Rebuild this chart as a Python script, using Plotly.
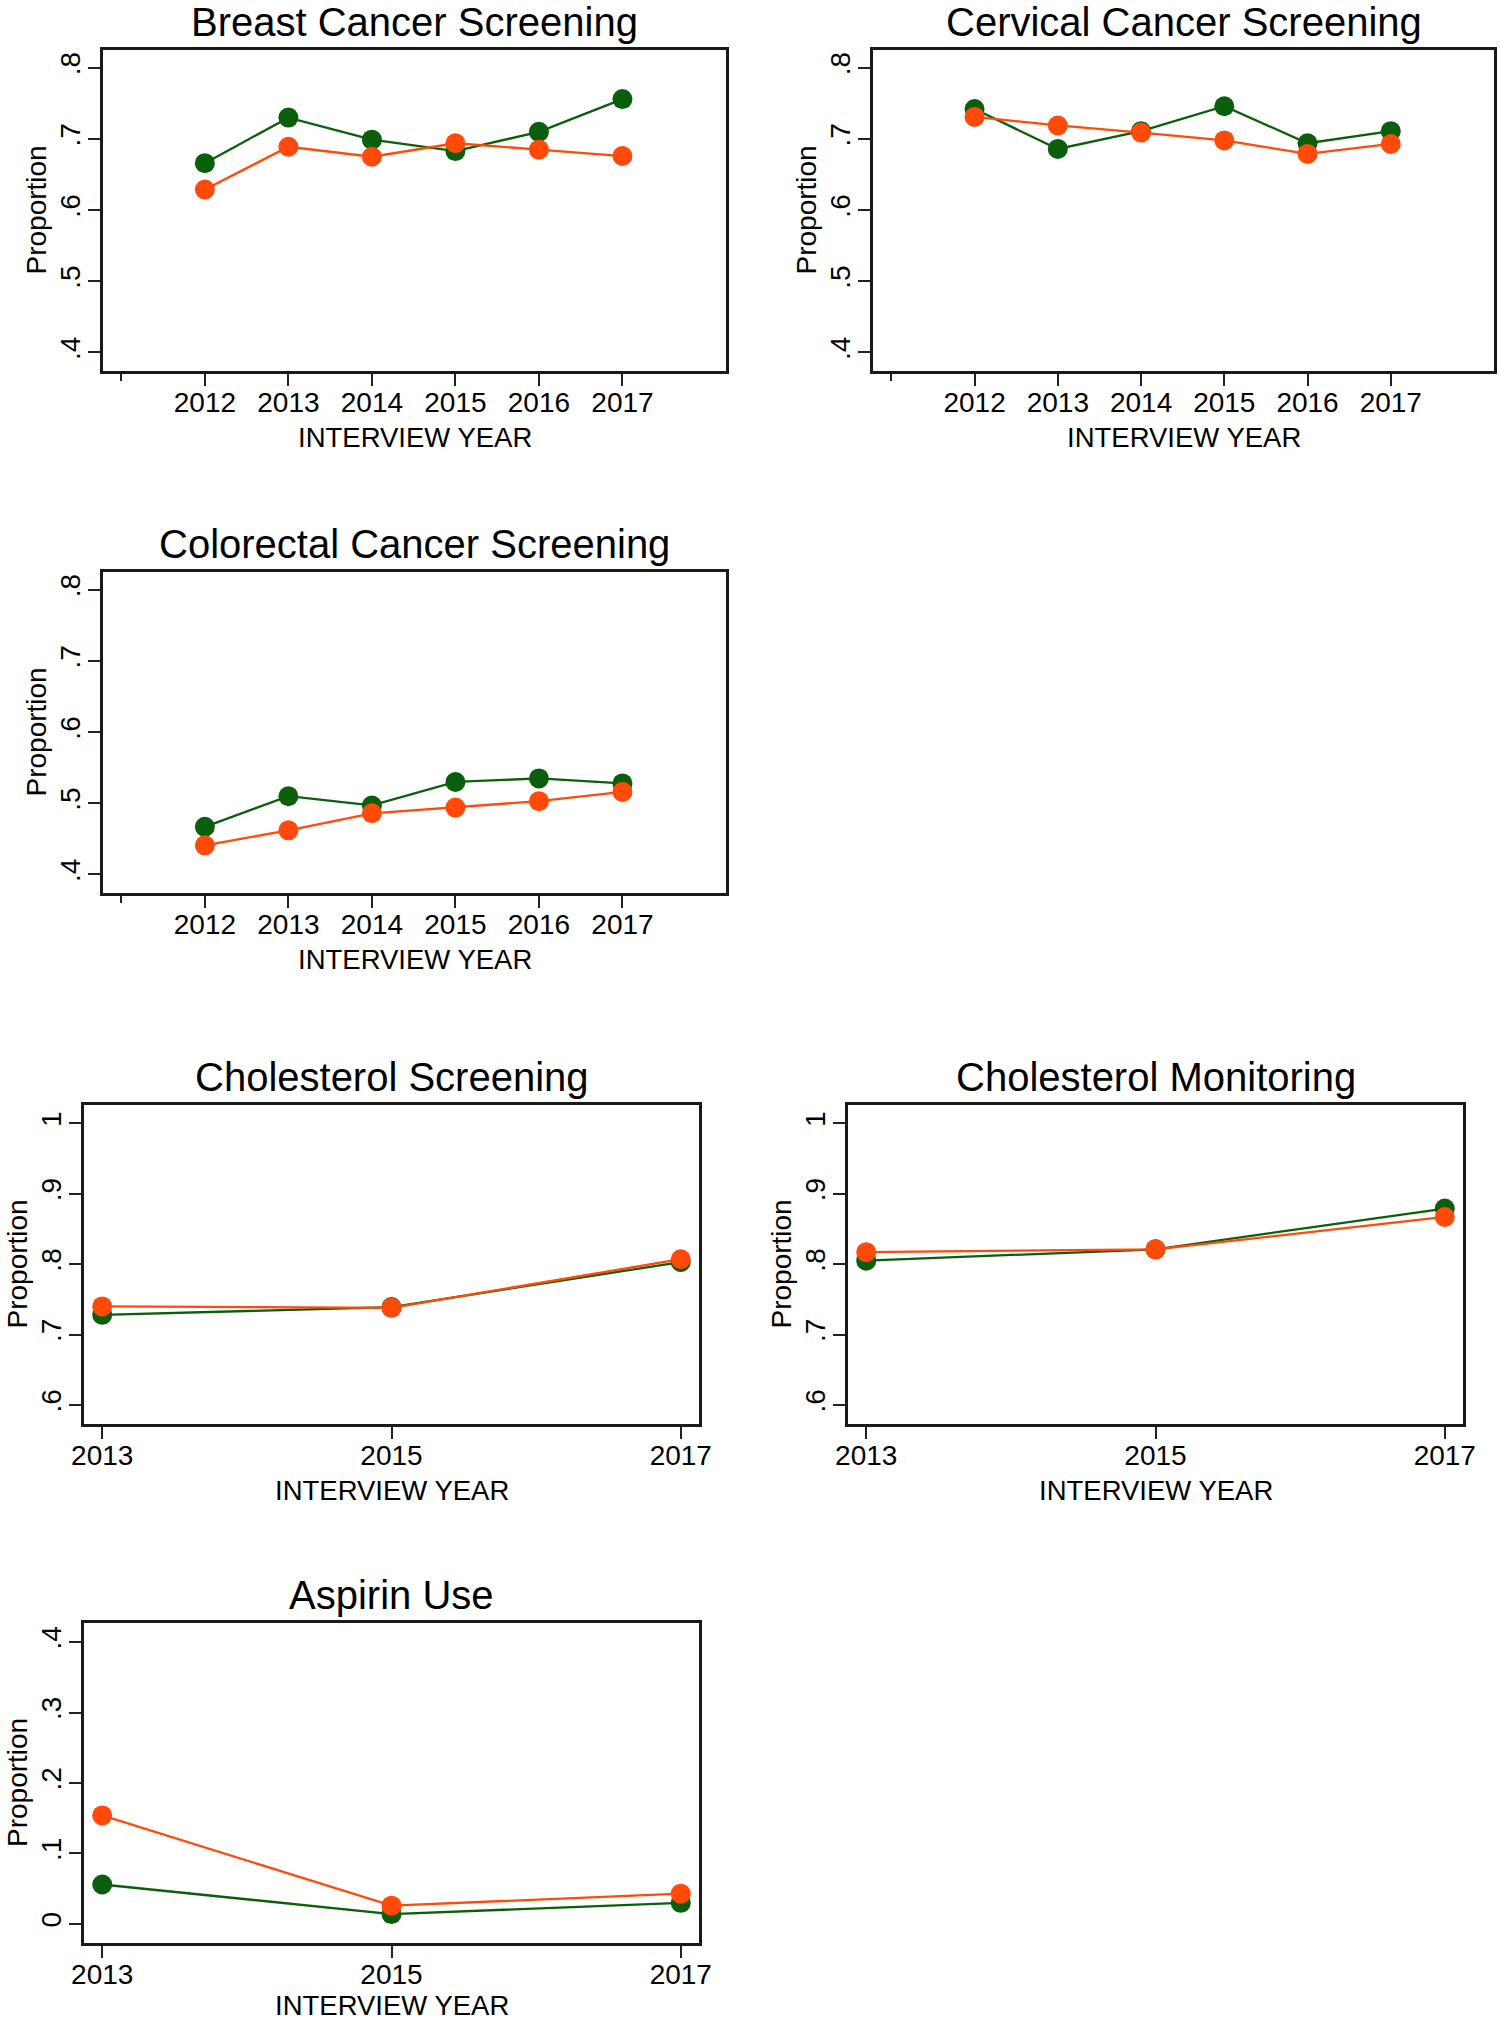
import plotly.graph_objects as go

# ---------------- data ----------------
years_6 = [2012, 2013, 2014, 2015, 2016, 2017]
years_3 = [2013, 2015, 2017]

breast_green = [0.666, 0.730, 0.699, 0.683, 0.710, 0.756]
breast_orange = [0.629, 0.689, 0.675, 0.694, 0.685, 0.676]

cervical_green = [0.742, 0.686, 0.711, 0.746, 0.694, 0.711]
cervical_orange = [0.731, 0.719, 0.709, 0.698, 0.679, 0.693]

colorectal_green = [0.467, 0.510, 0.497, 0.530, 0.535, 0.528]
colorectal_orange = [0.441, 0.462, 0.486, 0.494, 0.503, 0.516]

chol_screen_green = [0.728, 0.739, 0.803]
chol_screen_orange = [0.740, 0.738, 0.807]

chol_monitor_green = [0.805, 0.821, 0.879]
chol_monitor_orange = [0.817, 0.821, 0.867]

aspirin_green = [0.056, 0.014, 0.030]
aspirin_orange = [0.154, 0.026, 0.043]

titles = ["Breast Cancer Screening", "Cervical Cancer Screening",
          "Colorectal Cancer Screening", "Cholesterol Screening",
          "Cholesterol Monitoring", "Aspirin Use"]

ytick_vals_a = [0.4, 0.5, 0.6, 0.7, 0.8]
ytick_text_a = [".4", ".5", ".6", ".7", ".8"]
ytick_vals_b = [0.6, 0.7, 0.8, 0.9, 1.0]
ytick_text_b = [".6", ".7", ".8", ".9", "1"]
ytick_vals_c = [0.0, 0.1, 0.2, 0.3, 0.4]
ytick_text_c = ["0", ".1", ".2", ".3", ".4"]

x_label = "INTERVIEW YEAR"
y_label = "Proportion"

# ---------------- styling / layout ----------------
W, H = 1500, 2024
GREEN = "#0b5e0b"
ORANGE = "#ff4a0a"
FONT = "Liberation Sans, Arial, Helvetica, sans-serif"

# panel boxes in pixels: (left, right, top, bottom)
boxes = [
    (103, 726, 50, 371),
    (873, 1494, 50, 371),
    (103, 726, 572, 893),
    (84, 699, 1105, 1424),
    (848, 1463, 1105, 1424),
    (84, 699, 1623, 1943),
]

panels = [
    (years_6, breast_green, breast_orange, [2010.78, 2018.24], [0.374, 0.825], ytick_vals_a, ytick_text_a),
    (years_6, cervical_green, cervical_orange, [2010.78, 2018.24], [0.374, 0.825], ytick_vals_a, ytick_text_a),
    (years_6, colorectal_green, colorectal_orange, [2010.78, 2018.24], [0.374, 0.825], ytick_vals_a, ytick_text_a),
    (years_3, chol_screen_green, chol_screen_orange, [2012.874, 2017.126], [0.573, 1.026], ytick_vals_b, ytick_text_b),
    (years_3, chol_monitor_green, chol_monitor_orange, [2012.874, 2017.126], [0.573, 1.026], ytick_vals_b, ytick_text_b),
    (years_3, aspirin_green, aspirin_orange, [2012.874, 2017.126], [-0.027, 0.427], ytick_vals_c, ytick_text_c),
]

fig = go.Figure()
layout = dict(
    template="none",
    width=W, height=H,
    margin=dict(l=0, r=0, t=0, b=0, autoexpand=False),
    paper_bgcolor="white", plot_bgcolor="white",
    showlegend=False,
    font=dict(family=FONT, color="black"),
)
annotations = []

for i, ((xs, g, o, xr, yr, ytv, ytt), (L, R, T, B), title) in enumerate(zip(panels, boxes, titles), start=1):
    xa = "x" if i == 1 else f"x{i}"
    ya = "y" if i == 1 else f"y{i}"
    for vals, col in ((g, GREEN), (o, ORANGE)):
        fig.add_trace(go.Scatter(
            x=xs, y=vals, mode="lines+markers",
            line=dict(color=col, width=2.3),
            marker=dict(color=col, size=20, line=dict(width=0)),
            xaxis=xa, yaxis=ya, hoverinfo="x+y",
        ))
    xkey = "xaxis" if i == 1 else f"xaxis{i}"
    ykey = "yaxis" if i == 1 else f"yaxis{i}"
    xaxis = dict(
        domain=[L / W, R / W], anchor=ya, range=xr, automargin=False,
        tickmode="array", tickvals=xs, ticktext=[str(v) for v in xs],
        ticks="outside", ticklen=12, tickwidth=1.5, tickcolor="#222",
        ticklabelstandoff=-7,
        showline=True, mirror=True, linecolor="#1a1a1a", linewidth=2.5,
        showgrid=False, zeroline=False,
        tickfont=dict(size=28, family=FONT, color="black"),
    )
    if len(xs) == 6:
        xaxis["minor"] = dict(tickmode="array", tickvals=[2011], ticks="outside",
                              ticklen=7, tickwidth=1.5, tickcolor="#222", showgrid=False)
    layout[xkey] = xaxis
    layout[ykey] = dict(
        domain=[1 - B / H, 1 - T / H], anchor=xa, range=yr, automargin=False,
        tickmode="array", tickvals=ytv, ticktext=ytt, tickangle=-90,
        ticks="outside", ticklen=12, tickwidth=1.5, tickcolor="#222",
        ticklabelstandoff=-3,
        showline=True, mirror=True, linecolor="#1a1a1a", linewidth=2.5,
        showgrid=False, zeroline=False,
        tickfont=dict(size=28, family=FONT, color="black"),
    )
    cx = (L + R) / 2
    # panel title
    annotations.append(dict(
        text=title, x=cx / W, y=1 - (T - 28) / H, xref="paper", yref="paper",
        xanchor="center", yanchor="middle", showarrow=False,
        font=dict(size=40, family=FONT, color="black"),
    ))
    # x axis title
    annotations.append(dict(
        text=x_label, x=cx / W, y=1 - (B + (62 if i == 6 else 66)) / H, xref="paper", yref="paper",
        xanchor="center", yanchor="middle", showarrow=False,
        font=dict(size=27.5, family=FONT, color="black"),
    ))
    # y axis title
    annotations.append(dict(
        text=y_label, x=(L - 67) / W, y=1 - ((T + B) / 2) / H, xref="paper", yref="paper",
        xanchor="center", yanchor="middle", showarrow=False, textangle=-90,
        font=dict(size=28, family=FONT, color="black"),
    ))

layout["annotations"] = annotations
fig.update_layout(**layout)
fig.write_html("out.html", config={"displayModeBar": False},
               post_script="document.body.style.margin='0px';")
